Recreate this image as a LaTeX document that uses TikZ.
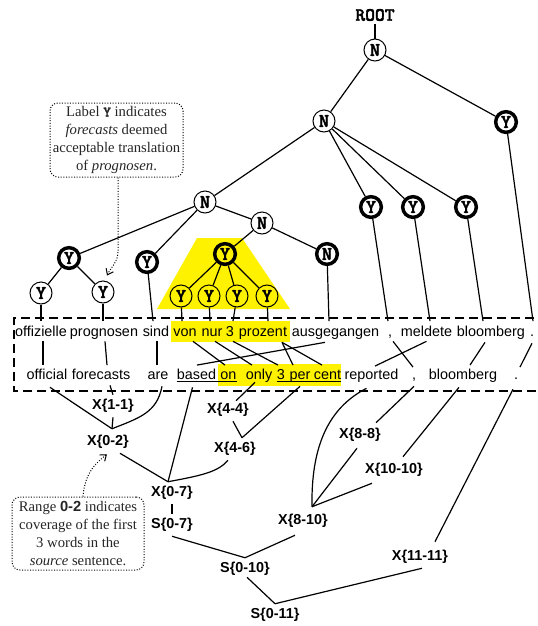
\documentclass[tikz,border=0pt]{standalone}
\usepackage{fontspec}
\setmainfont{Liberation Serif}
\setsansfont{Liberation Sans}
\newfontfamily\monob{lmmonolt10-bold.otf}[FakeBold=2]
\usetikzlibrary{calc,backgrounds,arrows.meta}
\begin{document}
\begin{tikzpicture}[x=0.75pt,y=-0.75pt,
  edge/.style={line width=0.9pt},
  tn/.style={circle,draw,line width=0.75pt,minimum size=16.5pt,inner sep=0pt,fill=white,font=\monob\fontsize{14.5}{15}\selectfont},
  tk/.style={tn,line width=2.6pt,minimum size=15.5pt},
  hl/.style={fill=yellow},
  rootst/.style={inner sep=2pt,font=\monob\fontsize{14}{15}\selectfont},
  wd/.style={font=\sffamily\fontsize{10.8}{12}\selectfont,text height=8pt,text depth=2.3pt,inner xsep=0pt,inner ysep=3pt,anchor=base},
  lab/.style={font=\sffamily\bfseries\fontsize{10.8}{12}\selectfont,minimum height=16.5pt,inner sep=0pt},
  callout/.style={draw,line width=0.75pt,dash pattern=on 0.75pt off 1.25pt,rounded corners=6pt,align=center,font=\rmfamily\fontsize{11}{13.5}\selectfont,text=black!85,inner sep=0pt},
  callarrow/.style={line width=0.75pt,dash pattern=on 0.75pt off 1.25pt,-{Straight Barb[length=4pt,width=6pt]}},
  ul/.style={line width=0.7pt},
  dbox/.style={line width=1.1pt,dash pattern=on 7pt off 3.5pt}
]
\useasboundingbox (0,0) rectangle (538,626);

% ---------- source-side tree ----------
\node[rootst] (root) at (375,15) {ROOT};
\node[tn] (nR) at (375,50) {N};
\node[tn] (n2) at (324,121) {N};
\node[tk] (yR) at (506,122) {Y};
\node[tn] (n4) at (205,202) {N};
\node[tk] (y1) at (371,207) {Y};
\node[tk] (y2) at (413,207) {Y};
\node[tk] (y3) at (466,207) {Y};
\node[tn] (n3) at (262,223) {N};
\node[tk] (ya) at (69,258) {Y};
\node[tk] (yb) at (147,262) {Y};
\node[tk,hl] (yc) at (225,254) {Y};
\node[tk] (nb) at (327,254) {N};
\node[tn] (ya1) at (41,293) {Y};
\node[tn] (ya2) at (103,292) {Y};
\node[tn,hl] (yc1) at (181,296) {Y};
\node[tn,hl] (yc2) at (209,296) {Y};
\node[tn,hl] (yc3) at (237,296) {Y};
\node[tn,hl] (yc4) at (267,296) {Y};

% ---------- source words ----------
\node[wd] (s0) at (41,336) {offizielle};
\node[wd] (s1) at (104,336) {prognosen};
\node[wd] (s2) at (156,336) {sind};
\node[wd] (s3) at (185,336) {von};
\node[wd] (s4) at (212,336) {nur};
\node[wd] (s5) at (230,336) {3};
\node[wd] (s6) at (263,336) {prozent};
\node[wd] (s7) at (335.5,336) {ausgegangen};
\node[wd] (s8) at (390,336) {,};
\node[wd] (s9) at (426.5,336) {meldete};
\node[wd] (s10) at (491,336) {bloomberg};
\node[wd] (s11) at (532,336) {.};

% ---------- target words ----------
\node[wd] (t0) at (47,379) {official};
\node[wd] (t1) at (101,379) {forecasts};
\node[wd] (t2) at (158,379) {are};
\node[wd] (t3) at (196.5,379) {based};
\node[wd] (t4) at (228.5,379) {on};
\node[wd] (t5) at (259,379) {only};
\node[wd] (t6) at (281,379) {3};
\node[wd] (t7) at (300,379) {per};
\node[wd] (t8) at (327.5,379) {cent};
\node[wd] (t9) at (371.5,379) {reported};
\node[wd] (t10) at (414,379) {,};
\node[wd] (t11) at (463,379) {bloomberg};
\node[wd] (t12) at (516,379) {.};

% ---------- derivation labels ----------
\node[lab] (x11) at (113,406) {X\{1-1\}};
\node[lab] (x02) at (108,442) {X\{0-2\}};
\node[lab] (x44) at (228,410) {X\{4-4\}};
\node[lab] (x46) at (235,449) {X\{4-6\}};
\node[lab] (x07) at (172,493) {X\{0-7\}};
\node[lab] (dS07) at (172,525) {S\{0-7\}};
\node[lab] (dS010) at (245,569) {S\{0-10\}};
\node[lab] (dS011) at (275,615) {S\{0-11\}};
\node[lab] (x88) at (360,435) {X\{8-8\}};
\node[lab] (x1010) at (394,470) {X\{10-10\}};
\node[lab] (x810) at (303,521) {X\{8-10\}};
\node[lab] (x1111) at (420,557) {X\{11-11\}};

\coordinate (j02) at ($(x02.north)+(4,-2)$);
\coordinate (j46) at ($(x46.north)+(7,0)$);
\coordinate (j07) at ($(x07.north)+(-4,0)$);
\coordinate (j810) at ($(x810.north)+(9,-3)$);

% ---------- callouts ----------
\node[callout,minimum width=99.75pt,minimum height=55.5pt] (c1) at (116.5,140)
  {Label {\monob Y} indicates\\\textit{forecasts} deemed\\acceptable translation\\of \textit{prognosen}.};
\node[callout,minimum width=99pt,minimum height=54.75pt] (c2) at (78,533.5)
  {Range {\sffamily\bfseries 0-2} indicates\\coverage of the first\\3 words in the\\\textit{source} sentence.};

% ---------- tree edges ----------
\draw[edge] (root) -- (nR);
\draw[edge] (nR) -- (n2);
\draw[edge] (nR) -- (yR);
\draw[edge] (n2) -- (n4);
\draw[edge] (n2) -- (y1);
\draw[edge] (n2) -- (y2);
\draw[edge] (n2) -- (y3);
\draw[edge] (n4) -- (ya);
\draw[edge] (n4) -- (yb);
\draw[edge] (n4) -- (n3);
\draw[edge] (n3) -- (yc);
\draw[edge] (n3) -- (nb);
\draw[edge] (ya) -- (ya1);
\draw[edge] (ya) -- (ya2);
\draw[edge] (yc) -- (yc1);
\draw[edge] (yc) -- (yc2);
\draw[edge] (yc) -- (yc3);
\draw[edge] (yc) -- (yc4);

% ---------- tree to source words ----------
\draw[edge] (ya1) -- (s0.north);
\draw[edge] (ya2) -- ($(s1.north)+(-1,0)$);
\draw[edge] (yb) -- ($(s2.north)+(-3,0)$);
\draw[edge] (yc1) -- ($(s3.north)+(-3,0)$);
\draw[edge] (yc2) -- ($(s4.north)+(-2,0)$);
\draw[edge] (yc3) -- ($(s5.north)+(3,0)$);
\draw[edge] (yc4) -- ($(s6.north)+(5,0)$);
\draw[edge] (nb) -- ($(s7.north)+(-6.5,0)$);
\draw[edge] (y1) -- ($(s8.north)+(-2,0)$);
\draw[edge] (y2) -- ($(s9.north)+(3.5,0)$);
\draw[edge] (y3) -- ($(s10.north)+(-8,0)$);
\draw[edge] (yR) -- ($(s11.north)+(1,0)$);

% ---------- word alignments ----------
\draw[edge] ($(s0.south)+(2,-2)$) -- ($(t0.north)+(-4,1)$);
\draw[edge] ($(s1.south)+(1,-2)$) -- ($(t1.north)+(6,1)$);
\draw[edge] ($(s2.south)+(1,-2)$) -- ($(t2.north)+(-1,1)$);
\draw[edge] ($(s3.south)+(8,-2)$) -- ($(t4.north)+(-3.5,1)$);
\draw[edge] ($(s4.south)+(3,-2)$) -- ($(t5.north)+(-7,1)$);
\draw[edge] ($(s5.south)+(3,-2)$) -- ($(t6.north)+(-3,1)$);
\draw[edge] ($(s6.south)+(19,-1)$) -- ($(t7.north)+(-7,1)$);
\draw[edge] ($(s6.south)+(19,-1)$) -- ($(t8.north)+(-5.5,1)$);
\draw[edge] ($(s7.south)+(-10.5,-1)$) -- ($(t3.north)+(0.5,1)$);
\draw[edge] ($(s8.south)+(3,-2)$) -- ($(t10.north)+(-1,3)$);
\draw[edge] ($(s9.south)+(0,-2)$) -- ($(t9.north)+(3.5,2)$);
\draw[edge] ($(s10.south)+(-6,-1)$) -- ($(t11.north)+(7,1)$);
\draw[edge] ($(s11.south)+(0,0)$) -- ($(t12.north)+(4,3)$);

% ---------- derivation edges ----------
\draw[edge] ($(t0.south)+(3,1)$) -- (j02);
\draw[edge] ($(t1.south)+(9,-1)$) -- (x11.north);
\draw[edge] (x11.south) -- (j02);
\draw[edge] ($(t2.south)+(4,0)$) .. controls +(-5,26) and +(28,-11) .. (j02);
\draw[edge] ($(t5.south)+(-4,-4)$) -- ($(x44.north)+(8,2)$);
\draw[edge] ($(x44.south)+(5,0)$) -- (j46);
\draw[edge] (t7.south) -- (j46);
\draw[edge] ($(x46.south)+(-7,0)$) .. controls +(-10,12) and +(32,-6) .. (j07);
\draw[edge] ($(t3.south)+(-4,1)$) -- (j07);
\draw[edge] ($(x02.south)+(12,0)$) -- (j07);
\draw[edge] (x07.south) -- (dS07.north);
\draw[edge] (dS07.south) -- (dS010.north);
\draw[edge] ($(x810.south)+(-8,3)$) -- (dS010.north);
\draw[edge] ($(dS010.south)+(2,-3)$) -- (dS011.north);
\draw[edge] ($(x1111.south)+(2,0)$) -- (dS011.north);
\draw[edge] ($(t12.south)+(-3,3)$) -- ($(x1111.north)+(15,-4)$);
\draw[edge] ($(t11.south)+(-4,1)$) -- ($(x1010.north)+(9,-2)$);
\draw[edge] (t10.south) -- ($(x88.north)+(16,-1)$);
\draw[edge] ($(t9.south)+(-5,2)$) .. controls +(-39,20) and +(-1,-59) .. (j810);
\draw[edge] ($(x88.south)+(-3,2)$) -- (j810);
\draw[edge] ($(x1010.south)+(-22,2)$) -- (j810);

% ---------- underlines ----------
\draw[ul] ($(t3.base west)+(0,2.5)$) -- ($(t4.base east)+(0,2.5)$);
\draw[ul] ($(t6.base west)+(0,2.5)$) -- ($(t8.base east)+(0,2.5)$);

% ---------- dashed box ----------
\draw[dbox] (548,318) -- (14,318) -- (14,391) -- (548,391);

% ---------- callout arrows ----------
\draw[callarrow] ($(c1.south)+(1.5,0)$) -- ++(0,73) .. controls +(0,12) and +(5,-10) .. ($(ya2.north)+(4,-5)$);
\draw[callarrow] ($(c2.north)+(5,0)$) .. controls +(2,-25) and +(-10,8) .. ($(x02.south)+(-1,1)$);

% ---------- background ----------
\begin{scope}[on background layer]
  \fill[white] (0,0) rectangle (538,626);
  \fill[yellow] (197,238) -- (242,238) -- (290,309) -- (157,309) -- cycle;
  \fill[yellow] ($(s3.north west)+(-2,0)$) rectangle ($(s6.south east)+(3,-1)$);
  \fill[yellow] ($(t4.north west)+(-2,0)$) rectangle (t8.south east);
\end{scope}
\end{tikzpicture}
\end{document}
